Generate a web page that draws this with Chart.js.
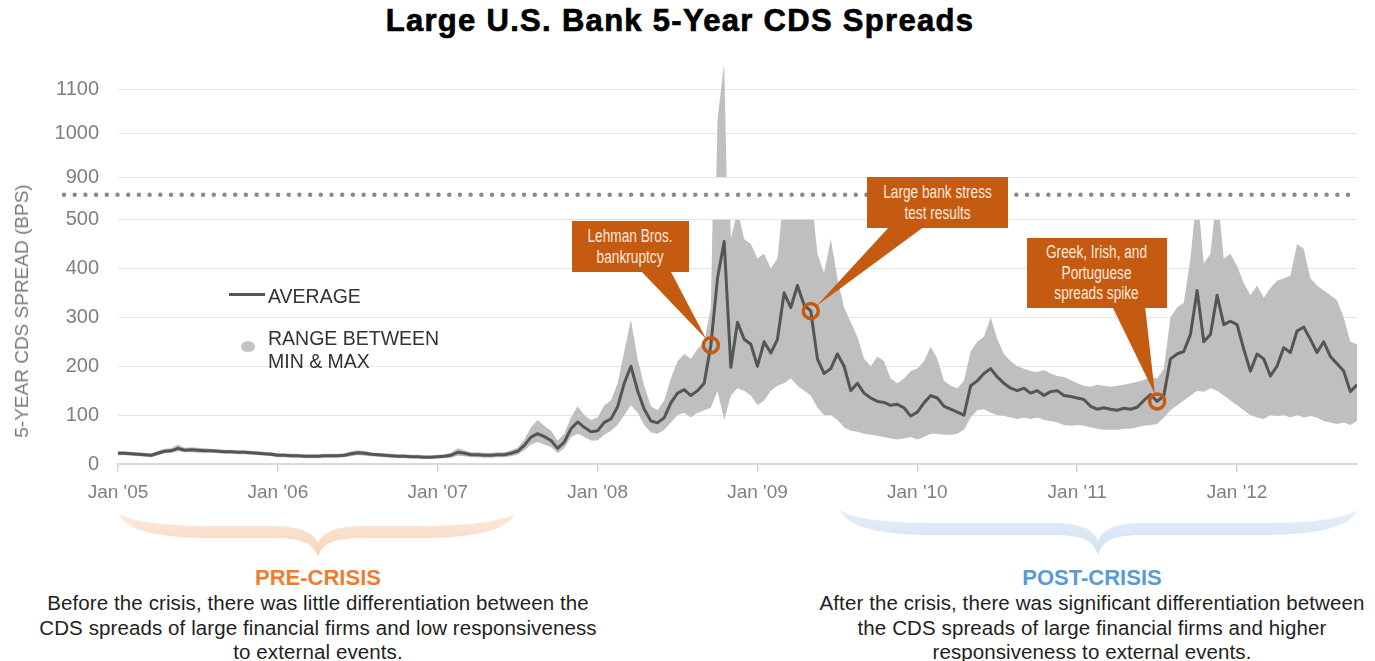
<!DOCTYPE html>
<html>
<head>
<meta charset="utf-8">
<title>Large U.S. Bank 5-Year CDS Spreads</title>
<script src="https://cdn.jsdelivr.net/npm/chart.js@4.4.1/dist/chart.umd.min.js"></script>
<style>
body { margin: 0; background: #fff; font-family: "Liberation Sans", Arial, sans-serif; }
#page { position: relative; width: 1375px; height: 661px; overflow: hidden; }
.abs { position: absolute; }
#title { left: 0; top: 4px; width: 1360px; text-align: center; font-size: 31px; font-weight: bold; line-height: 34px; color: #000;
         letter-spacing: 1.3px; -webkit-text-stroke: 0.7px #000; }
#upperChart { left: 0; top: 36px; }
#lowerChart { left: 0; top: 150px; }
#yTitle { left: 22px; top: 311px; transform: translate(-50%, -50%) rotate(-90deg); white-space: nowrap; font-size: 19px; color: #7a7a7a; }
.legendText { font-size: 19.5px; color: #333; line-height: 23px; }
.callout { background: #c55a11; color: #fde9dc; display: flex; align-items: center; justify-content: center; text-align: center;
           font-size: 18px; line-height: 20.5px; }
.callout span { display: inline-block; transform: scaleX(0.76); white-space: nowrap; }
.capHead { font-weight: bold; font-size: 22px; line-height: 26px; text-align: center; }
.capBody { font-size: 20.5px; letter-spacing: 0.1px; line-height: 24.5px; text-align: center; color: #231f20; }
svg { position: absolute; left: 0; top: 0; }
</style>
</head>
<body>
<div id="page">
  <div id="title" class="abs">Large U.S. Bank 5-Year CDS Spreads</div>

  <svg id="braces" width="1375" height="661"></svg>

  <canvas id="upperChart" class="abs" width="1375" height="172"></canvas>
  <canvas id="lowerChart" class="abs" width="1375" height="360"></canvas>

  <div id="yTitle" class="abs">5-YEAR CDS SPREAD (BPS)</div>

  <!-- legend -->
  <div class="abs" style="left:229px; top:293px; width:36px; height:3px; background:#555;"></div>
  <div class="abs legendText" style="left:268px; top:285px;">AVERAGE</div>
  <div class="abs" style="left:241px; top:341px; width:14px; height:11px; border-radius:50%; background:#c3c3c3;"></div>
  <div class="abs legendText" style="left:268px; top:327px;">RANGE BETWEEN<br>MIN &amp; MAX</div>

  <div id="callouts"></div>

  <div class="abs" style="left:18px; top:565px; width:600px;">
    <div class="capHead" style="color:#ed7d31;">PRE-CRISIS</div>
    <div class="capBody">Before the crisis, there was little differentiation between the<br>CDS spreads of large financial firms and low responsiveness<br>to external events.</div>
  </div>
  <div class="abs" style="left:792px; top:565px; width:600px;">
    <div class="capHead" style="color:#5b9bd5;">POST-CRISIS</div>
    <div class="capBody">After the crisis, there was significant differentiation between<br>the CDS spreads of large financial firms and higher<br>responsiveness to external events.</div>
  </div>
</div>

<script>
// Semi-monthly observations, first one in January 2005
const startYear = 2005;
const perYear = 24;

const avgSpread = [
  22,22,21,20,19,18,22,26,27,32,28,29,28,27,27,26,25,25,24,24,23,22,21,20,
  18,18,17,17,16,16,16,17,17,17,18,21,23,22,20,19,18,17,16,16,15,15,14,14,
  15,16,18,24,22,19,19,18,18,19,19,22,26,38,55,62,56,48,32,45,72,86,75,66,
  68,85,92,117,165,200,150,112,88,84,95,125,145,152,140,150,165,243,380,455,198,290,255,245,
  200,250,227,255,350,320,365,325,313,215,185,195,225,200,150,165,145,135,128,126,120,122,115,98,
  106,125,140,135,118,112,106,100,160,170,185,195,178,165,155,150,155,145,150,140,148,150,140,138,
  135,132,118,112,115,112,110,114,112,116,130,142,128,140,215,225,230,265,355,250,265,345,285,292,
  285,235,190,225,215,180,200,238,228,272,280,255,228,250,220,205,190,148,162
];

const minSpread = [
  18,18,17,16,15,14,18,22,23,26,24,24,23,23,23,22,21,21,20,20,19,18,17,16,
  14,14,13,13,12,12,12,13,13,13,14,16,18,17,16,15,14,13,12,12,11,11,10,10,
  11,12,13,17,16,14,14,13,13,14,14,16,19,28,40,45,40,35,22,32,55,62,55,48,
  48,60,68,80,100,120,105,80,65,62,70,85,100,105,95,105,110,115,150,90,140,155,150,140,
  120,130,150,160,165,175,160,150,140,115,100,100,90,75,68,66,62,60,58,55,52,50,52,55,
  50,55,62,62,60,60,62,70,95,110,112,105,100,98,95,92,95,92,95,90,88,85,80,78,
  80,78,75,72,70,70,70,72,72,75,78,80,82,95,110,120,130,140,150,148,155,150,140,130,
  120,110,100,95,92,100,98,100,95,100,95,98,95,88,85,82,85,80,88
];

const maxSpread = [
  26,26,25,24,23,22,27,31,32,40,33,34,33,32,31,30,29,29,28,28,27,26,25,24,
  22,22,21,21,20,20,20,21,21,21,22,26,28,27,24,23,22,21,20,20,19,19,18,18,
  19,20,23,32,28,24,24,23,23,24,24,28,33,50,75,90,78,68,48,62,95,118,100,90,
  95,120,130,165,230,295,215,160,118,110,130,175,210,225,215,235,250,320,1030,1160,460,520,460,450,
  420,430,400,420,560,560,560,560,560,430,390,460,380,320,290,260,215,200,220,210,175,165,175,190,
  195,210,240,215,170,160,155,170,230,250,260,300,255,225,210,200,195,190,188,192,185,180,178,172,
  165,160,158,162,160,158,160,162,165,168,172,178,175,195,300,320,330,420,560,410,430,560,420,430,
  405,370,345,365,340,360,375,380,385,450,440,380,365,355,345,335,300,250,245
];

const yearTicks = [2005, 2006, 2007, 2008, 2009, 2010, 2011, 2012];
const yearLabels = ["Jan '05", "Jan '06", "Jan '07", "Jan '08", "Jan '09", "Jan '10", "Jan '11", "Jan '12"];
const lowerTicks = [0, 100, 200, 300, 400, 500];
const upperTicks = [900, 1000, 1100];

// events marked on the average line (index into the series)
const eventIdx = [89, 104, 156];
const eventLabels = [
  ["Lehman Bros.", "bankruptcy"],
  ["Large bank stress", "test results"],
  ["Greek, Irish, and", "Portuguese", "spreads spike"]
];

// callout box placement (page pixels) and where the pointer leaves the box
const calloutBoxes = [
  { left: 572, top: 221, width: 117, height: 51, baseL: 640, baseR: 670 },
  { left: 867, top: 177, width: 141, height: 51, baseL: 890, baseR: 925 },
  { left: 1027, top: 238, width: 140, height: 70, baseL: 1112, baseR: 1145 }
];

const lowerTop = 150;   // page y of the lower canvas
const breakY = 194.7;   // page y of the dotted axis break
const orange = '#c55a11';

Chart.defaults.font.family = "'Liberation Sans', Arial, sans-serif";
Chart.defaults.animation = false;

const toPoints = arr => arr.map((v, i) => ({ x: startYear + i / perYear, y: v }));

function xScale(show) {
  return {
    type: 'linear',
    display: show,
    min: startYear,
    max: startYear + (avgSpread.length - 1) / perYear,
    afterBuildTicks: s => { s.ticks = yearTicks.map(v => ({ value: v })); },
    afterFit: s => { s.height = show ? 46 : 0; },
    grid: { drawOnChartArea: false, color: '#d6d6d6', tickLength: 8, lineWidth: 1.5 },
    border: { color: '#d9d9d9', width: 2 },
    ticks: {
      autoSkip: false, maxRotation: 0, padding: 9, color: '#808080',
      font: { size: 19 },
      callback: (v, i) => yearLabels[i]
    }
  };
}

function yScale(min, max, ticks) {
  return {
    type: 'linear',
    min: min,
    max: max,
    afterBuildTicks: s => { s.ticks = ticks.map(v => ({ value: v })); },
    afterFit: s => { s.width = 118; },
    grid: { color: '#e4e4e4', drawTicks: false },
    border: { display: false },
    ticks: { padding: 19, color: '#808080', font: { size: 20 }, callback: v => String(v) }
  };
}

function bandSets() {
  return [
    { data: toPoints(minSpread), borderWidth: 0, pointRadius: 0, fill: false, order: 2 },
    { data: toPoints(maxSpread), borderWidth: 0, pointRadius: 0, fill: 0, backgroundColor: '#bfbfbf', order: 1 }
  ];
}

const baseOptions = {
  responsive: false,
  events: [],
  plugins: { legend: { display: false }, tooltip: { enabled: false } }
};

// Top slice of the broken axis: 900 - 1150
new Chart(document.getElementById('upperChart'), {
  type: 'line',
  data: { datasets: bandSets() },
  options: Object.assign({}, baseOptions, {
    layout: { padding: { top: 15, bottom: 14, left: 0, right: 18 } },
    scales: { x: xScale(false), y: yScale(900, 1150, upperTicks) }
  })
});

// dotted break line, callout pointers and event circles
const lowerMarks = {
  id: 'lowerMarks',
  beforeDraw(chart) {
    const ctx = chart.ctx;
    const y = breakY - lowerTop;
    ctx.save();
    ctx.strokeStyle = '#8a8a8a';
    ctx.lineWidth = 4.5;
    ctx.lineCap = 'round';
    ctx.setLineDash([0, 10.7]);
    ctx.beginPath();
    ctx.moveTo(64, y);
    ctx.lineTo(1358, y);
    ctx.stroke();
    ctx.restore();
  },
  afterDatasetsDraw(chart) {
    const { ctx, scales: { x, y } } = chart;
    const r = 7.5;
    eventIdx.forEach((idx, k) => {
      const cx = x.getPixelForValue(startYear + idx / perYear);
      const cy = y.getPixelForValue(avgSpread[idx]);
      const box = calloutBoxes[k];
      const by = box.top + box.height - lowerTop;
      const bx = (box.baseL + box.baseR) / 2;
      const len = Math.hypot(cx - bx, cy - by);
      const tx = cx - (cx - bx) / len * r;
      const ty = cy - (cy - by) / len * r;

      ctx.save();
      ctx.fillStyle = orange;
      ctx.beginPath();
      ctx.moveTo(box.baseL, by - 2);
      ctx.lineTo(box.baseR, by - 2);
      ctx.lineTo(tx, ty);
      ctx.closePath();
      ctx.fill();

      ctx.strokeStyle = orange;
      ctx.lineWidth = 3.5;
      ctx.beginPath();
      ctx.arc(cx, cy, r, 0, Math.PI * 2);
      ctx.stroke();
      ctx.restore();
    });
  }
};

// Main slice: 0 - 500
new Chart(document.getElementById('lowerChart'), {
  type: 'line',
  data: {
    datasets: bandSets().concat([{
      data: toPoints(avgSpread),
      borderColor: '#555555',
      borderWidth: 3,
      borderJoinStyle: 'round',
      pointRadius: 0,
      fill: false,
      tension: 0,
      order: 0
    }])
  },
  options: Object.assign({}, baseOptions, {
    layout: { padding: { top: 69.5, bottom: 0, left: 0, right: 18 } },
    scales: { x: xScale(true), y: yScale(0, 500, lowerTicks) }
  }),
  plugins: [lowerMarks]
});

// callout boxes
const holder = document.getElementById('callouts');
calloutBoxes.forEach((b, k) => {
  const div = document.createElement('div');
  div.className = 'abs callout';
  div.style.left = b.left + 'px';
  div.style.top = b.top + 'px';
  div.style.width = b.width + 'px';
  div.style.height = b.height + 'px';
  div.innerHTML = '<span>' + eventLabels[k].join('<br>') + '</span>';
  holder.appendChild(div);
});

// curly braces under the pre- and post-crisis periods
function bracePath(x0, x1, xm, yT, yTip) {
  const lo = yT + 25, hi = yT + 13;
  return `M${x0},${yT} C${x0 + 8},${yT + 20} ${x0 + 50},${lo} ${x0 + 95},${lo}
    L${xm - 45},${lo} C${xm - 15},${lo} ${xm - 4},${lo + 6} ${xm},${yTip}
    C${xm + 4},${lo + 6} ${xm + 15},${lo} ${xm + 45},${lo}
    L${x1 - 95},${lo} C${x1 - 50},${lo} ${x1 - 8},${yT + 20} ${x1},${yT}
    C${x1 - 14},${yT + 10} ${x1 - 55},${hi} ${x1 - 95},${hi}
    L${xm + 45},${hi} C${xm + 14},${hi} ${xm + 4},${hi + 8} ${xm},${yTip - 14}
    C${xm - 4},${hi + 8} ${xm - 14},${hi} ${xm - 45},${hi}
    L${x0 + 95},${hi} C${x0 + 55},${hi} ${x0 + 14},${yT + 10} ${x0},${yT} Z`;
}

document.getElementById('braces').innerHTML = `
  <defs>
    <linearGradient id="gPre" x1="0" y1="0" x2="0" y2="1">
      <stop offset="0" stop-color="#fcebdf"/><stop offset="1" stop-color="#f7d2b8"/>
    </linearGradient>
    <linearGradient id="gPost" x1="0" y1="0" x2="0" y2="1">
      <stop offset="0" stop-color="#e6eff9"/><stop offset="1" stop-color="#cfe0f2"/>
    </linearGradient>
  </defs>
  <path d="${bracePath(118, 515, 318, 513, 557)}" fill="url(#gPre)"/>
  <path d="${bracePath(840, 1357, 1098, 510, 555)}" fill="url(#gPost)"/>`;
</script>
</body>
</html>
